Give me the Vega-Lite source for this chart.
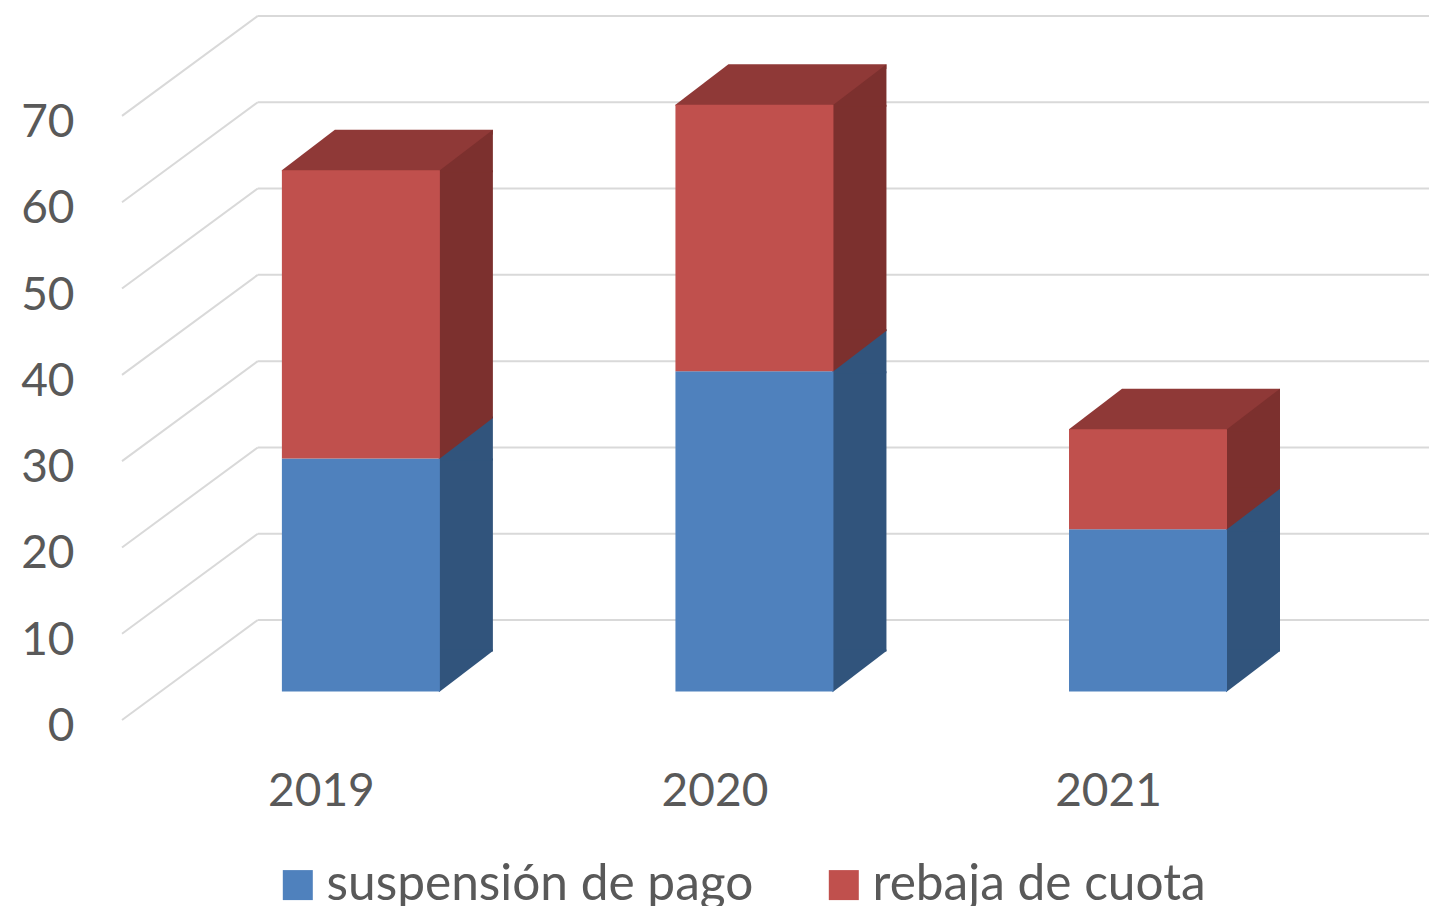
{
"$schema":"https://vega.github.io/schema/vega-lite/v6.json",
"width":1429,"height":906,"autosize":{"type":"none"},"padding":0,"background":"white",
"config":{"view":{"stroke":null},"font":"Lato"},
"datasets":{
"bars":[
{"year":2019,"series":"suspensión de pago","value":27},
{"year":2019,"series":"rebaja de cuota","value":33.4},
{"year":2020,"series":"suspensión de pago","value":37.1},
{"year":2020,"series":"rebaja de cuota","value":30.9},
{"year":2021,"series":"suspensión de pago","value":18.8},
{"year":2021,"series":"rebaja de cuota","value":11.6}],
"ticks":[{"v":0},{"v":10},{"v":20},{"v":30},{"v":40},{"v":50},{"v":60},{"v":70}]
},
"layer":[
{"data":{"name":"ticks"},
 "mark":{"type":"rule","color":"#D9D9D9","strokeWidth":2,"yOffset":28.5,"y2Offset":-71.5},
 "encoding":{
  "x":{"datum":2018.393,"type":"quantitative","scale":{"domain":[2018.083,2021.714],"nice":false,"zero":false},
   "axis":{"values":[2019,2020,2021],"format":"d","orient":"bottom","offset":-115,"labelOffset":-40,"ticks":false,"domain":false,"grid":false,"title":null,"labelFontSize":46,"labelColor":"#595959","labelPadding":0,"labelBaseline":"middle"}},
  "x2":{"datum":2018.738},
  "y":{"field":"v","type":"quantitative","scale":{"domain":[-24.85,80.13],"nice":false,"zero":false},
   "axis":{"values":[0,10,20,30,40,50,60,70],"orient":"left","offset":-74,"labelOffset":35,"ticks":false,"domain":false,"grid":false,"title":null,"labelFontSize":46,"labelColor":"#595959","labelPadding":0}},
  "y2":{"field":"v"}}},
{"data":{"name":"ticks"},
 "mark":{"type":"rule","color":"#D9D9D9","strokeWidth":2,"yOffset":-71.5},
 "encoding":{
  "x":{"datum":2018.738,"type":"quantitative"},
  "x2":{"datum":2021.714},
  "y":{"field":"v","type":"quantitative"}}},
{"data":{"name":"bars"},
 "transform":[{"stack":"value","groupby":["year"],"sort":[{"field":"series","order":"descending"}],"as":["y0","y1"]}],
 "encoding":{"x":{"field":"year","type":"quantitative"}},
 "layer":[
  {"transform":[{"filter":"datum.series==='rebaja de cuota'"}],
   "mark":{"type":"point","filled":true,"opacity":1,"size":4,"strokeWidth":0,"color":"#8F3937","shape":"M-79,1L85,1L132,-36L132,-40.5L-26,-40.5L-79,0Z"},
   "encoding":{"y":{"field":"y1","type":"quantitative"}}},
  {"mark":{"type":"rect","xOffset":78,"x2Offset":132,"yOffset":-40},
   "encoding":{"x2":{"field":"year"},"y":{"field":"y0","type":"quantitative"},"y2":{"field":"y1"},
    "fill":{"field":"series","type":"nominal","scale":{"domain":["rebaja de cuota","suspensión de pago"],"range":["#7C302E","#31547C"]},"legend":null}}},
  {"transform":[{"filter":"datum.series==='suspensión de pago'"}],
   "mark":{"type":"point","filled":true,"opacity":1,"size":4,"strokeWidth":0,"color":"#31547C","shape":"M78,-0.75L132,-42L132,2L78,2Z"},
   "encoding":{"y":{"field":"y1","type":"quantitative"}}},
  {"transform":[{"filter":"datum.series==='rebaja de cuota'"}],
   "mark":{"type":"point","filled":true,"opacity":1,"size":4,"strokeWidth":0,"color":"#7C302E","shape":"M78,0.75L132,-40.5L132,2L78,2Z"},
   "encoding":{"y":{"field":"y1","type":"quantitative"}}},
  {"mark":{"type":"point","filled":true,"opacity":1,"size":4,"strokeWidth":0,"shape":"M78,0.75L132,-40.5L132,-42L78,-42Z"},
   "encoding":{"y":{"field":"y0","type":"quantitative"},
    "fill":{"field":"series","type":"nominal","legend":null}}},
  {"mark":{"type":"rect","xOffset":-79,"x2Offset":79},
   "encoding":{"x2":{"field":"year"},"y":{"field":"y0","type":"quantitative"},"y2":{"field":"y1"},
    "color":{"field":"series","type":"nominal","scale":{"domain":["suspensión de pago","rebaja de cuota"],"range":["#4F81BD","#C0504D"]},
     "legend":{"title":null,"orient":"none","legendX":273,"legendY":860,"direction":"horizontal","symbolType":"square","symbolSize":900,"labelFontSize":49.6,"labelColor":"#595959","labelLimit":800,"columnPadding":65,"labelOffset":4,"symbolStrokeWidth":0}}}}
 ]
}
]
}
